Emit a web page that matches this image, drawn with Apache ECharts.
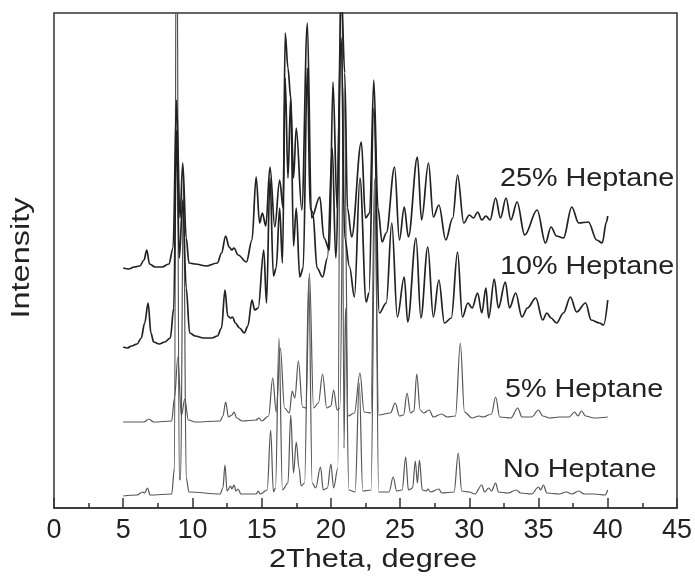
<!DOCTYPE html>
<html>
<head>
<meta charset="utf-8">
<script src="https://cdn.jsdelivr.net/npm/echarts@6/dist/echarts.min.js"></script>
<style>html,body{margin:0;padding:0;background:#fff}#c{width:695px;height:576px}</style>
</head>
<body>
<div id="c"></div>
<script>
// [2theta (deg), intensity (offset, arbitrary units)]
const noHeptane = [[5.0,12],[6.0,13],[6.4,16],[6.55,15],[6.75,20],[6.95,13],[8.5,14],[8.7,40],[8.85,700],[9.05,28],[9.15,30],[9.35,330],[9.55,30],[9.75,16],[12.0,14],[12.2,20],[12.35,43],[12.5,17],[12.75,22],[12.85,19],[13.0,23],[13.15,17],[13.3,19],[13.5,14],[14.6,14],[14.75,17],[14.9,14],[15.4,18],[15.65,78],[15.85,16],[16.0,20],[16.25,170],[16.5,18],[16.9,25],[17.1,93],[17.3,35],[17.5,66],[17.7,40],[17.85,22],[18.1,25],[18.4,230],[18.65,25],[18.9,20],[19.25,41],[19.45,18],[19.75,20],[20.0,44],[20.2,20],[20.5,40],[20.75,700],[20.95,60],[21.05,200],[21.3,18],[21.75,16],[22.05,125],[22.3,17],[22.9,18],[23.2,320],[23.45,16],[24.2,16],[24.5,31],[24.75,17],[25.15,18],[25.4,51],[25.6,18],[25.9,20],[26.1,47],[26.25,25],[26.4,48],[26.6,18],[26.9,17],[27.0,19],[27.2,16],[27.8,19],[28.0,15],[28.9,16],[29.2,55],[29.45,17],[30.0,16],[30.4,14],[30.9,23],[31.1,16],[31.4,20],[31.6,17],[31.9,25],[32.1,16],[32.8,15],[33.4,18],[33.7,15],[34.5,14],[35.0,21],[35.15,18],[35.35,23],[35.6,15],[36.5,14],[37.0,16],[37.4,14],[37.9,17],[38.3,14],[39.0,14],[39.8,13],[40.0,18]];
const hep5 = [[5.0,86],[6.5,86],[6.85,89],[7.2,86],[8.5,87],[8.7,110],[8.95,151],[9.2,92],[9.45,109],[9.7,88],[10.2,86],[12.0,87],[12.2,92],[12.4,106],[12.6,91],[12.85,93],[13.0,96],[13.2,90],[13.6,87],[14.6,88],[14.8,90],[15.0,87],[15.5,92],[15.8,130],[16.05,96],[16.35,160],[16.65,100],[17.0,95],[17.2,117],[17.4,110],[17.65,147],[17.95,101],[18.2,100],[18.45,235],[18.75,100],[19.1,105],[19.4,134],[19.7,100],[20.0,102],[20.2,118],[20.45,98],[20.65,100],[20.95,420],[21.25,92],[21.7,95],[22.1,135],[22.4,96],[22.9,95],[23.15,330],[23.45,93],[24.3,95],[24.65,105],[24.95,92],[25.25,93],[25.5,115],[25.75,95],[26.0,97],[26.2,134],[26.45,98],[26.7,95],[27.1,98],[27.4,91],[28.0,94],[28.4,91],[29.0,92],[29.35,165],[29.65,96],[30.2,90],[30.7,92],[31.0,91],[31.6,94],[31.9,111],[32.2,91],[33.0,90],[33.5,100],[33.8,91],[34.5,91],[35.0,98],[35.3,92],[35.8,90],[36.5,91],[37.2,91],[37.6,96],[37.85,92],[38.1,97],[38.4,92],[39.0,90],[40.0,91]];
const hep10 = [[5.0,161],[5.3,160],[5.6,162],[6.0,164],[6.3,170],[6.55,185],[6.8,205],[7.0,175],[7.2,166],[7.6,164],[8.0,166],[8.4,170],[8.65,200],[8.85,378],[9.05,250],[9.3,308],[9.55,220],[9.8,175],[10.2,172],[10.8,170],[11.4,170],[11.8,172],[12.1,180],[12.35,218],[12.55,192],[12.75,190],[12.9,191],[13.1,185],[13.4,180],[13.75,175],[14.0,182],[14.3,208],[14.5,198],[14.75,200],[15.15,258],[15.35,205],[15.6,330],[15.85,232],[16.05,240],[16.3,300],[16.5,245],[16.7,430],[16.9,330],[17.1,411],[17.3,262],[17.5,300],[17.75,231],[18.0,240],[18.3,440],[18.5,300],[18.7,295],[19.0,240],[19.4,231],[19.75,250],[20.1,360],[20.35,250],[20.75,470],[21.0,270],[21.35,241],[21.7,211],[22.1,330],[22.55,206],[22.75,215],[23.1,400],[23.5,195],[24.0,205],[24.4,285],[24.8,191],[25.3,231],[25.55,186],[26.15,270],[26.5,190],[27.0,261],[27.4,191],[27.8,228],[28.2,185],[28.7,190],[29.15,256],[29.5,191],[29.9,205],[30.2,200],[30.6,215],[30.9,195],[31.2,220],[31.4,190],[31.8,229],[32.1,200],[32.6,226],[32.9,200],[33.35,215],[33.8,191],[34.2,200],[34.8,210],[35.3,188],[35.6,195],[35.9,190],[36.3,185],[36.8,195],[37.3,211],[37.75,196],[38.4,205],[38.8,188],[39.4,185],[39.7,183],[40.0,208]];
const hep25 = [[5.0,240],[5.4,239],[5.8,241],[6.2,242],[6.5,248],[6.7,258],[6.9,244],[7.3,241],[7.8,241],[8.3,244],[8.6,260],[8.85,408],[9.1,290],[9.3,345],[9.55,270],[9.75,245],[10.2,244],[11.0,242],[11.8,245],[12.1,255],[12.4,272],[12.65,261],[12.85,258],[13.0,260],[13.3,253],[13.9,246],[14.3,268],[14.6,331],[14.85,285],[15.05,295],[15.3,282],[15.6,341],[15.95,281],[16.3,328],[16.55,300],[16.7,475],[16.9,440],[17.1,410],[17.3,330],[17.5,380],[17.9,298],[18.3,485],[18.6,290],[19.2,311],[19.5,270],[19.9,258],[20.15,426],[20.45,300],[20.75,520],[21.0,435],[21.2,300],[21.5,271],[22.2,366],[22.5,290],[22.8,295],[23.1,428],[23.4,300],[23.7,266],[24.0,275],[24.6,341],[24.95,268],[25.3,301],[25.6,271],[26.25,351],[26.55,288],[27.05,345],[27.4,291],[27.8,303],[28.3,268],[28.8,290],[29.15,333],[29.6,285],[30.0,293],[30.3,290],[30.6,296],[30.9,288],[31.2,292],[31.5,288],[31.9,310],[32.25,290],[32.65,310],[33.0,288],[33.45,306],[34.0,273],[34.9,298],[35.5,265],[35.9,281],[36.3,272],[36.8,270],[37.4,301],[37.9,285],[38.6,286],[39.2,268],[39.6,265],[39.9,286],[40.0,292]];
const seriesNames = ['No Heptane','5% Heptane','10% Heptane','25% Heptane'];
const xTicks = [0,5,10,15,20,25,30,35,40,45];
const xTitle = '2Theta, degree';
const yTitle = 'Intensity';

const chart = echarts.init(document.getElementById('c'), null, {renderer:'canvas'});
const FONT = 'Liberation Sans, Arial, sans-serif';
const lineS = (name, data, color, w) => ({
  name, type:'line', data, showSymbol:false, symbol:'none', clip:true,
  smooth:0.35, smoothMonotone:'x',
  lineStyle:{color, width:w}, animation:false, z: 2
});
const labelPos = [[503,470],[505,390],[500,267],[500,179]];
chart.setOption({
  animation:false,
  grid:{left:54,right:17,top:13,bottom:68,show:true,borderColor:'#333',borderWidth:1.5,backgroundColor:'transparent'},
  xAxis:{type:'value',min:xTicks[0],max:xTicks[xTicks.length-1],interval:5,
    axisLine:{show:true,lineStyle:{color:'#333',width:1.5}},
    axisTick:{show:true,inside:true,length:10,lineStyle:{color:'#333',width:1.5}},
    minorTick:{show:true,splitNumber:2,length:5,lineStyle:{color:'#333',width:1.5}},
    splitLine:{show:false},
    axisLabel:{fontSize:27,color:'#222',fontFamily:FONT,margin:9}},
  yAxis:{type:'value',min:0,max:495,show:false,splitLine:{show:false}},
  series:[
    lineS(seriesNames[0], noHeptane, '#555', 1.2),
    lineS(seriesNames[1], hep5, '#555', 1.2),
    lineS(seriesNames[2], hep10, '#222', 1.7),
    lineS(seriesNames[3], hep25, '#222', 1.7)
  ],
  graphic:[
    ...seriesNames.map((n,i)=>({type:'text',x:labelPos[i][0],y:labelPos[i][1],scaleX:1.15,
      style:{text:n,font:'25px '+FONT,fill:'#222',align:'left',verticalAlign:'middle'},z:10})),
    {type:'text',x:373,y:560,scaleX:1.18,style:{text:xTitle,font:'26px '+FONT,fill:'#222',align:'center',verticalAlign:'middle'},z:10},
    {type:'text',x:22,y:258,rotation:Math.PI/2,scaleX:1.25,style:{text:yTitle,font:'26px '+FONT,fill:'#222',align:'center',verticalAlign:'middle'},z:10}
  ]
});
</script>
</body>
</html>
